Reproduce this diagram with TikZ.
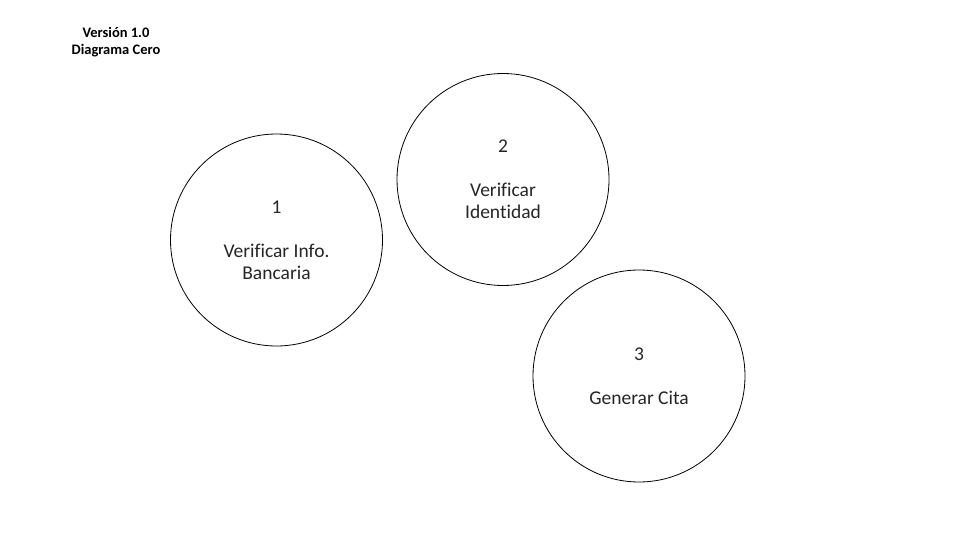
\documentclass[tikz,border=0pt]{standalone}
\usepackage{fontspec}
\setmainfont{Carlito}[Ligatures=NoCommon]
\begin{document}
\begin{tikzpicture}[x=1pt,y=-1pt,
  proc/.style={circle,draw=black,line width=0.8pt,minimum size=212pt,inner sep=0pt,
    align=center,font=\fontsize{19.5}{22}\selectfont,text=black!85},
  title/.style={align=center,font=\fontsize{14.5}{17}\selectfont\bfseries}]
\useasboundingbox[fill=white] (0,0) rectangle (960,540);
\node[title] (t) at (116,42.5) {Versión 1.0\\Diagrama Cero};
\node[proc] (p1) at (276.5,240) {1\\[22pt]Verificar Info.\\Bancaria};
\node[proc] (p2) at (503,179.5) {2\\[22pt]Verificar\\Identidad};
\node[proc] (p3) at (639,376) {3\\[22pt]Generar Cita};
\end{tikzpicture}
\end{document}
